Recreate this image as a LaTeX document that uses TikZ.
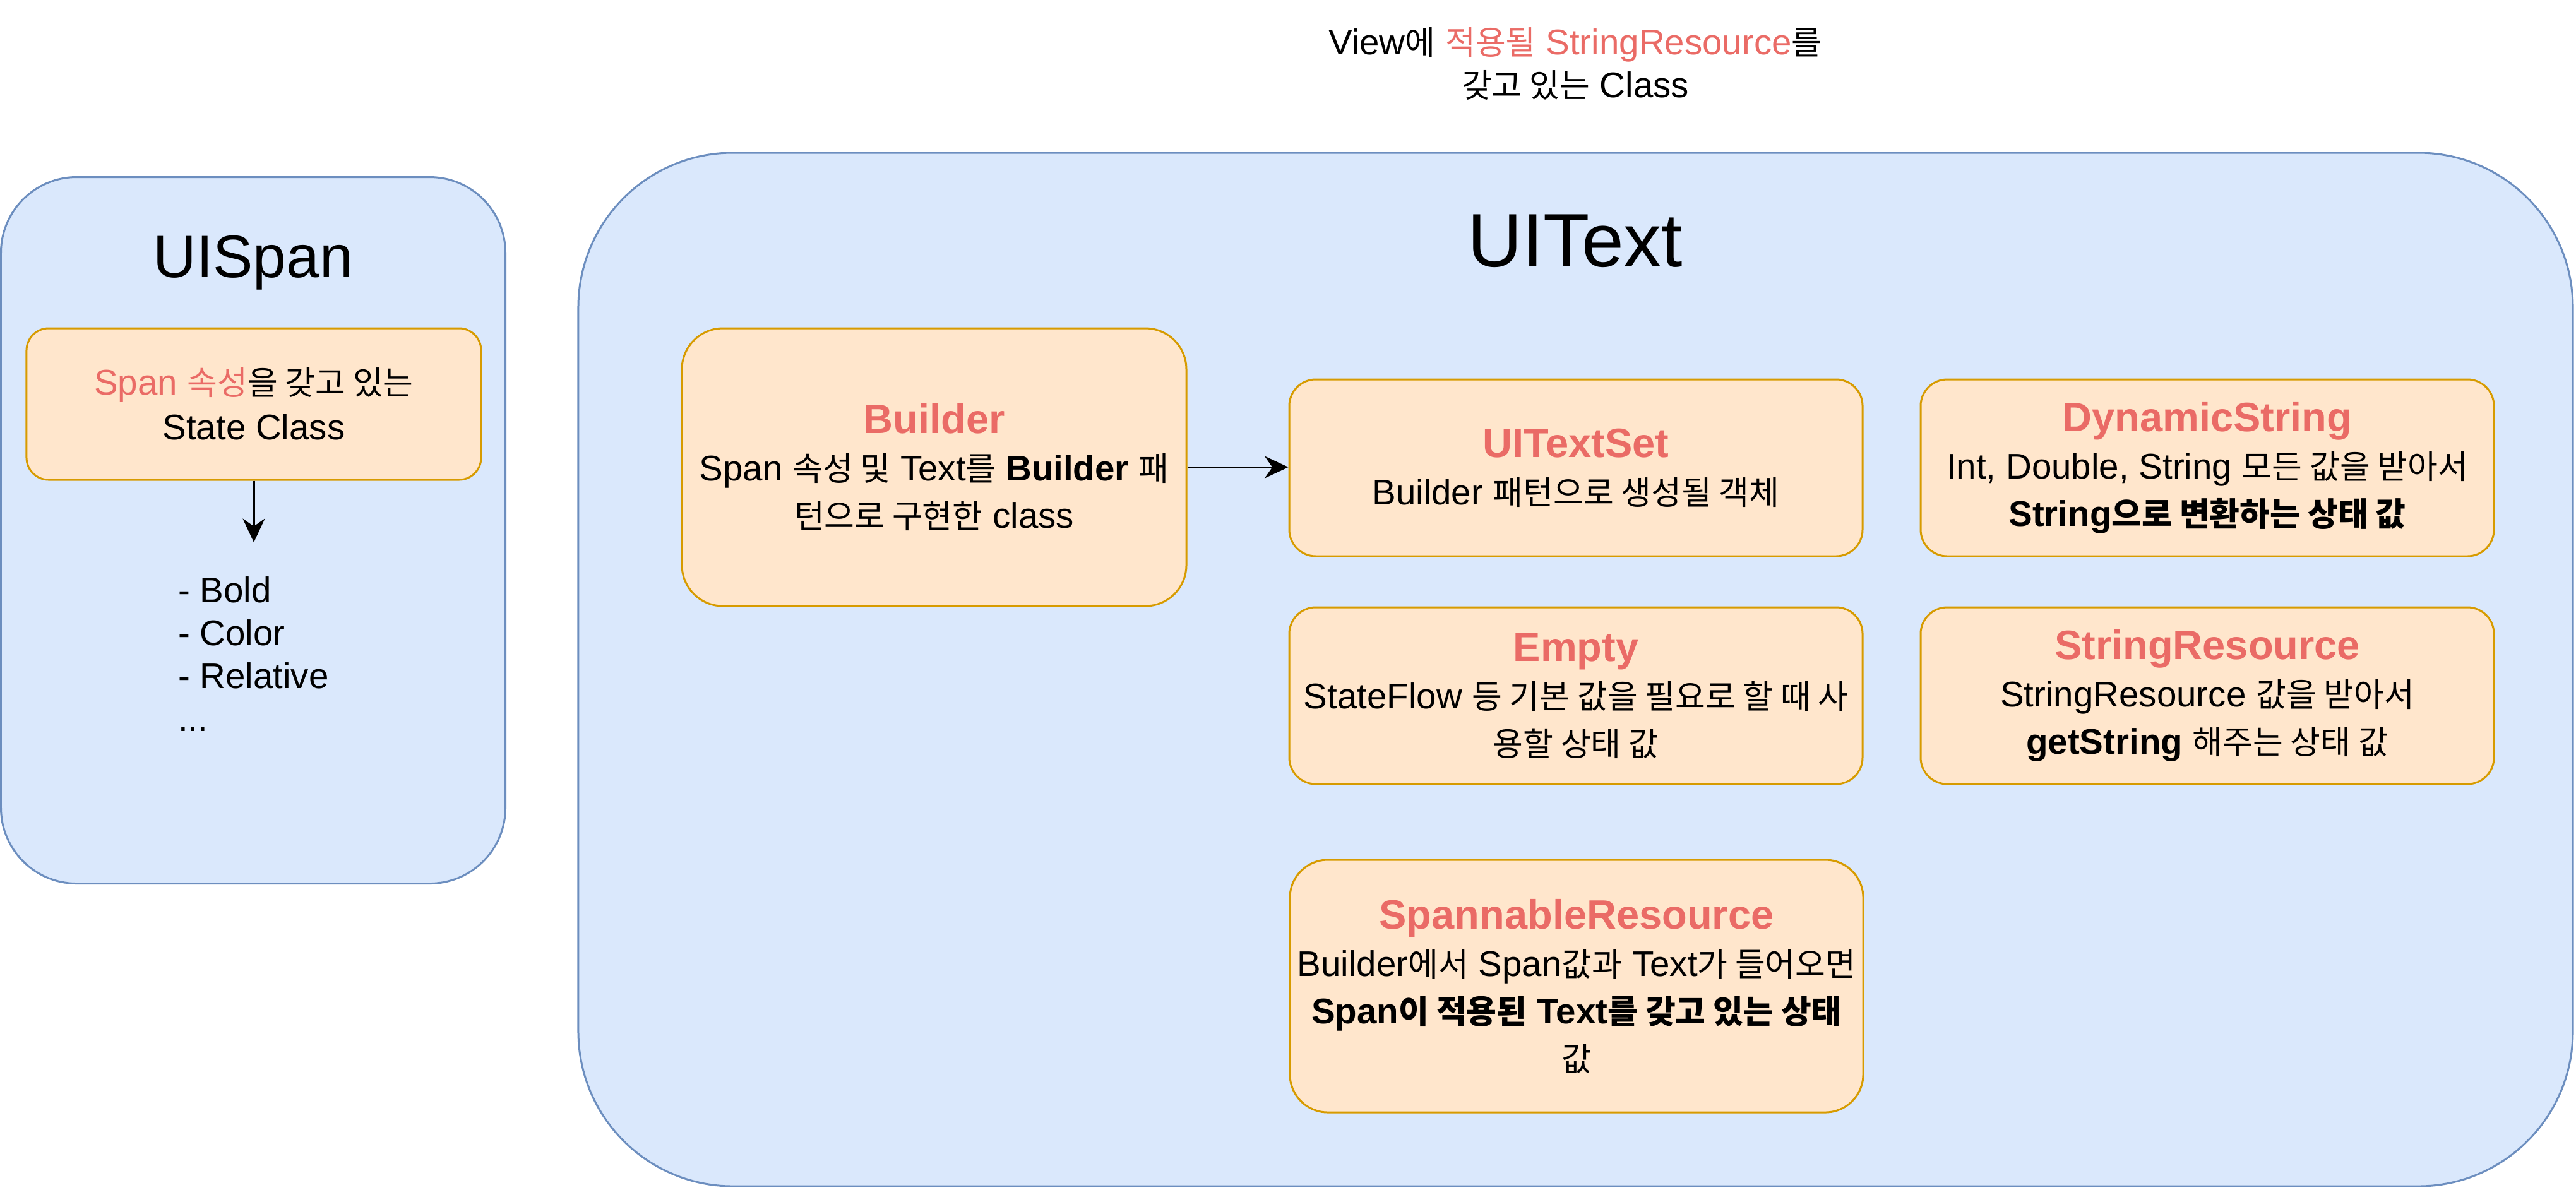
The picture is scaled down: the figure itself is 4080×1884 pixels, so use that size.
\documentclass[tikz,border=0pt]{standalone}
\usepackage{fontspec}
\setmainfont{Liberation Sans}
\newfontfamily\krfont{Noto Sans CJK KR}[Scale=0.92]
\newcommand{\hg}[1]{{\krfont #1}}
\usetikzlibrary{arrows.meta}
\definecolor{grpfill}{HTML}{DAE8FC}
\definecolor{grpline}{HTML}{6C8EBF}
\definecolor{boxfill}{HTML}{FFE6CC}
\definecolor{boxline}{HTML}{D79B00}
\definecolor{hilite}{HTML}{EA6B66}
\newcommand{\redtx}[1]{\textcolor{hilite}{#1}}
\newcommand{\boxtitle}[1]{{\fontsize{13}{15}\selectfont\bfseries\color{hilite}#1}}
\tikzset{
  groupbox/.style={draw=grpline, fill=grpfill, line width=0.6pt, inner sep=0pt},
  statenode/.style={draw=boxline, fill=boxfill, line width=0.6pt, inner sep=0pt, align=center, minimum width=181.6pt, minimum height=56pt, rounded corners=8.4pt, font=\fontsize{11.3}{15}\selectfont},
  heading/.style={inner sep=0pt, font=\fontsize{24}{28}\selectfont},
  plaintext/.style={inner sep=0pt, align=center, font=\fontsize{11.3}{13.6}\selectfont},
  link/.style={-{Stealth[length=7.5pt, width=7pt]}, line width=0.6pt}
}

\begin{document}
\begin{tikzpicture}[x=0.2pt, y=-0.2pt]
  \useasboundingbox (0,0) rectangle (4080,1884);

  % left group
  \node[groupbox, minimum width=159.8pt, minimum height=223.8pt, rounded corners=24pt] (spangrp) at (401,840) {};
  \node[heading, font=\fontsize{19}{22}\selectfont] (spantitle) at (401,416) {UISpan};
  \node[statenode, minimum width=144pt, minimum height=48pt, rounded corners=7pt, font=\fontsize{11.3}{14.2}\selectfont] (spanattr) at (402,640)
    {\redtx{Span \hg{속성}}\hg{을 갖고 있는}\\State Class};
  \coordinate (listtop) at (402,859);
  \node[plaintext, align=left, anchor=north west] (spanlist) at (281,913) {- Bold\\- Color\\- Relative\\...};

  % caption above
  \node[plaintext] (caption) at (2495,101)
    {View\hg{에} \redtx{\hg{적용될} StringResource}\hg{를}\\\hg{갖고 있는} Class};

  % right group
  \node[groupbox, minimum width=631.8pt, minimum height=327.4pt, rounded corners=49pt] (textgrp) at (2495.5,1060.5) {};
  \node[heading] (texttitle) at (2495,382) {UIText};

  \node[statenode, minimum width=159.8pt, minimum height=88pt, rounded corners=13pt] (builder) at (1479.5,740)
    {\boxtitle{Builder}\\Span \hg{속성 및} Text\hg{를} \textbf{Builder} \hg{패}\\\hg{턴으로 구현한} class};
  \node[statenode] (uitextset) at (2496,741)
    {\boxtitle{UITextSet}\\Builder \hg{패턴으로 생성될 객체}};
  \node[statenode] (dynstring) at (3496,741)
    {\boxtitle{DynamicString}\\Int, Double, String \hg{모든 값을 받아서}\\\textbf{String\hg{으로 변환하는 상태 값}}};
  \node[statenode] (empty) at (2496,1102)
    {\boxtitle{Empty}\\StateFlow \hg{등 기본 값을 필요로 할 때 사}\\\hg{용할 상태 값}};
  \node[statenode] (strres) at (3496,1102)
    {\boxtitle{StringResource}\\StringResource \hg{값을 받아서}\\\textbf{getString} \hg{해주는 상태 값}};
  \node[statenode, minimum height=80pt, rounded corners=12pt] (spanres) at (2497,1562)
    {\boxtitle{SpannableResource}\\Builder\hg{에서} Span\hg{값과} Text\hg{가 들어오면}\\\textbf{Span\hg{이 적용된} Text\hg{를 갖고 있는 상태}}\\\hg{값}};

  \draw[link] (spanattr) -- (listtop);
  \draw[link] (builder.east) -- (builder.east -| uitextset.west);
\end{tikzpicture}
\end{document}
